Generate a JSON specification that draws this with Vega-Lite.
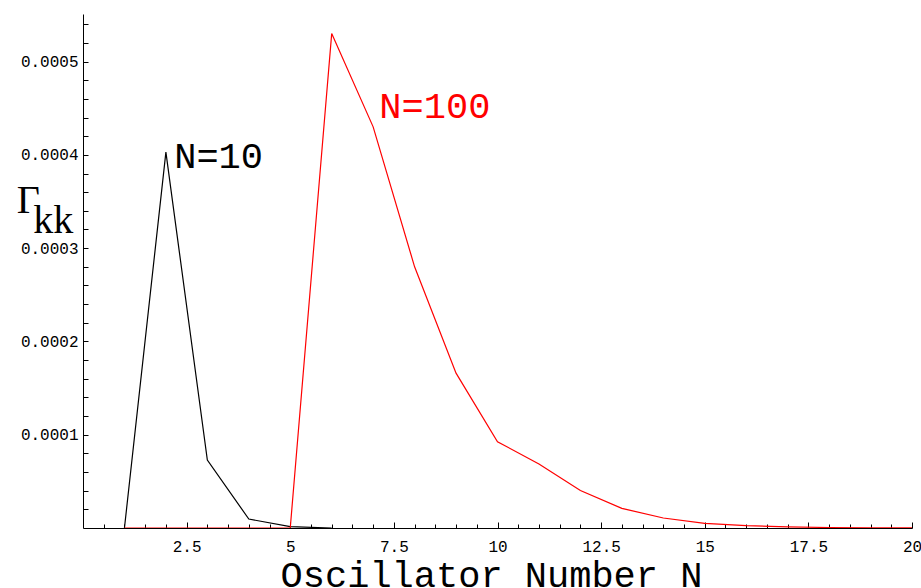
{
  "$schema": "https://vega.github.io/schema/vega-lite/v6.json",
  "width": 829,
  "height": 514,
  "autosize": "none",
  "padding": {"left": 83, "top": 14, "right": 9, "bottom": 60},
  "background": "white",
  "config": {
    "view": {"stroke": null},
    "axis": {
      "grid": false,
      "domainColor": "black",
      "domainWidth": 1,
      "tickColor": "black",
      "tickWidth": 1,
      "labelColor": "black",
      "labelFont": "Liberation Mono",
      "labelFontSize": 16,
      "labelOverlap": false,
      "labelFlush": false
    }
  },
  "datasets": {
    "curves": [
      {"n": 1, "g": 0, "series": "N=10"},
      {"n": 2, "g": 0.000403, "series": "N=10"},
      {"n": 3, "g": 0.0000729, "series": "N=10"},
      {"n": 4, "g": 0.0000096, "series": "N=10"},
      {"n": 5, "g": 0.0000014, "series": "N=10"},
      {"n": 6, "g": 0, "series": "N=10"},
      {"n": 1, "g": 0, "series": "N=100"},
      {"n": 2, "g": 0, "series": "N=100"},
      {"n": 3, "g": 0, "series": "N=100"},
      {"n": 4, "g": 0, "series": "N=100"},
      {"n": 5, "g": 0, "series": "N=100"},
      {"n": 6, "g": 0.00053, "series": "N=100"},
      {"n": 7, "g": 0.00043, "series": "N=100"},
      {"n": 8, "g": 0.00028, "series": "N=100"},
      {"n": 9, "g": 0.000166, "series": "N=100"},
      {"n": 10, "g": 0.0000925, "series": "N=100"},
      {"n": 11, "g": 0.0000686, "series": "N=100"},
      {"n": 12, "g": 0.0000402, "series": "N=100"},
      {"n": 13, "g": 0.0000211, "series": "N=100"},
      {"n": 14, "g": 0.0000107, "series": "N=100"},
      {"n": 15, "g": 0.000005, "series": "N=100"},
      {"n": 16, "g": 0.0000025, "series": "N=100"},
      {"n": 17, "g": 0.0000012, "series": "N=100"},
      {"n": 18, "g": 0.0000005, "series": "N=100"},
      {"n": 19, "g": 0.0000002, "series": "N=100"},
      {"n": 20, "g": 0.0000001, "series": "N=100"}
    ],
    "curveLabels": [
      {"n": 2.2, "g": 0.000386, "series": "N=10", "label": "N=10"},
      {"n": 7.15, "g": 0.000439, "series": "N=100", "label": "N=100"}
    ],
    "yTitle": [
      {"n": -1.6, "g": 0.0003376, "label": "Γ"},
      {"n": -1.2, "g": 0.000316, "label": "kk"}
    ]
  },
  "layer": [
    {
      "data": {"name": "curves"},
      "mark": {"type": "line", "strokeWidth": 1.2, "clip": true},
      "encoding": {
        "x": {
          "field": "n",
          "type": "quantitative",
          "scale": {"domain": [0, 20], "nice": false, "zero": false},
          "axis": {
            "values": [0.5, 1, 1.5, 2, 2.5, 3, 3.5, 4, 4.5, 5, 5.5, 6, 6.5, 7, 7.5, 8, 8.5, 9, 9.5, 10, 10.5, 11, 11.5, 12, 12.5, 13, 13.5, 14, 14.5, 15, 15.5, 16, 16.5, 17, 17.5, 18, 18.5, 19, 19.5, 20],
            "tickCount": 200,
            "labelExpr": "datum.value % 2.5 == 0 ? format(datum.value, '~g') : ''",
            "labelOverlap": false,
            "labelFlush": false,
            "tickSize": {"condition": {"test": "datum.value % 2.5 == 0", "value": -6}, "value": -4},
            "labelPadding": 16,
            "title": "Oscillator Number N",
            "titleFont": "Liberation Mono",
            "titleFontSize": 37,
            "titleFontWeight": "normal",
            "titleColor": "black",
            "titleBaseline": "alphabetic",
            "titleAlign": "center",
            "titleX": 408,
            "titleY": 58
          }
        },
        "y": {
          "field": "g",
          "type": "quantitative",
          "scale": {"domain": [0, 0.000551], "nice": false, "zero": false},
          "axis": {
            "values": [0.00002, 0.00004, 0.00006, 0.00008, 0.0001, 0.00012, 0.00014, 0.00016, 0.00018, 0.0002, 0.00022, 0.00024, 0.00026, 0.00028, 0.0003, 0.00032, 0.00034, 0.00036, 0.00038, 0.0004, 0.00042, 0.00044, 0.00046, 0.00048, 0.0005, 0.00052, 0.00054],
            "tickCount": 200,
            "labelExpr": "abs(datum.value * 10000 - round(datum.value * 10000)) < 0.001 ? format(datum.value, '.4f') : ''",
            "labelOverlap": false,
            "labelFlush": false,
            "tickSize": -5,
            "labelPadding": 10,
            "title": null
          }
        },
        "color": {
          "field": "series",
          "type": "nominal",
          "scale": {"domain": ["N=10", "N=100"], "range": ["black", "#ff0000"]},
          "legend": null
        }
      }
    },
    {
      "data": {"name": "curveLabels"},
      "mark": {"type": "text", "font": "Liberation Mono", "fontSize": 37, "align": "left", "baseline": "alphabetic"},
      "encoding": {
        "x": {"field": "n", "type": "quantitative"},
        "y": {"field": "g", "type": "quantitative"},
        "text": {"field": "label"},
        "color": {"field": "series", "type": "nominal", "legend": null}
      }
    },
    {
      "data": {"name": "yTitle"},
      "mark": {"type": "text", "font": "Liberation Serif", "fontSize": 40, "align": "left", "baseline": "alphabetic", "color": "black"},
      "encoding": {
        "x": {"field": "n", "type": "quantitative"},
        "y": {"field": "g", "type": "quantitative"},
        "text": {"field": "label"}
      }
    }
  ]
}
